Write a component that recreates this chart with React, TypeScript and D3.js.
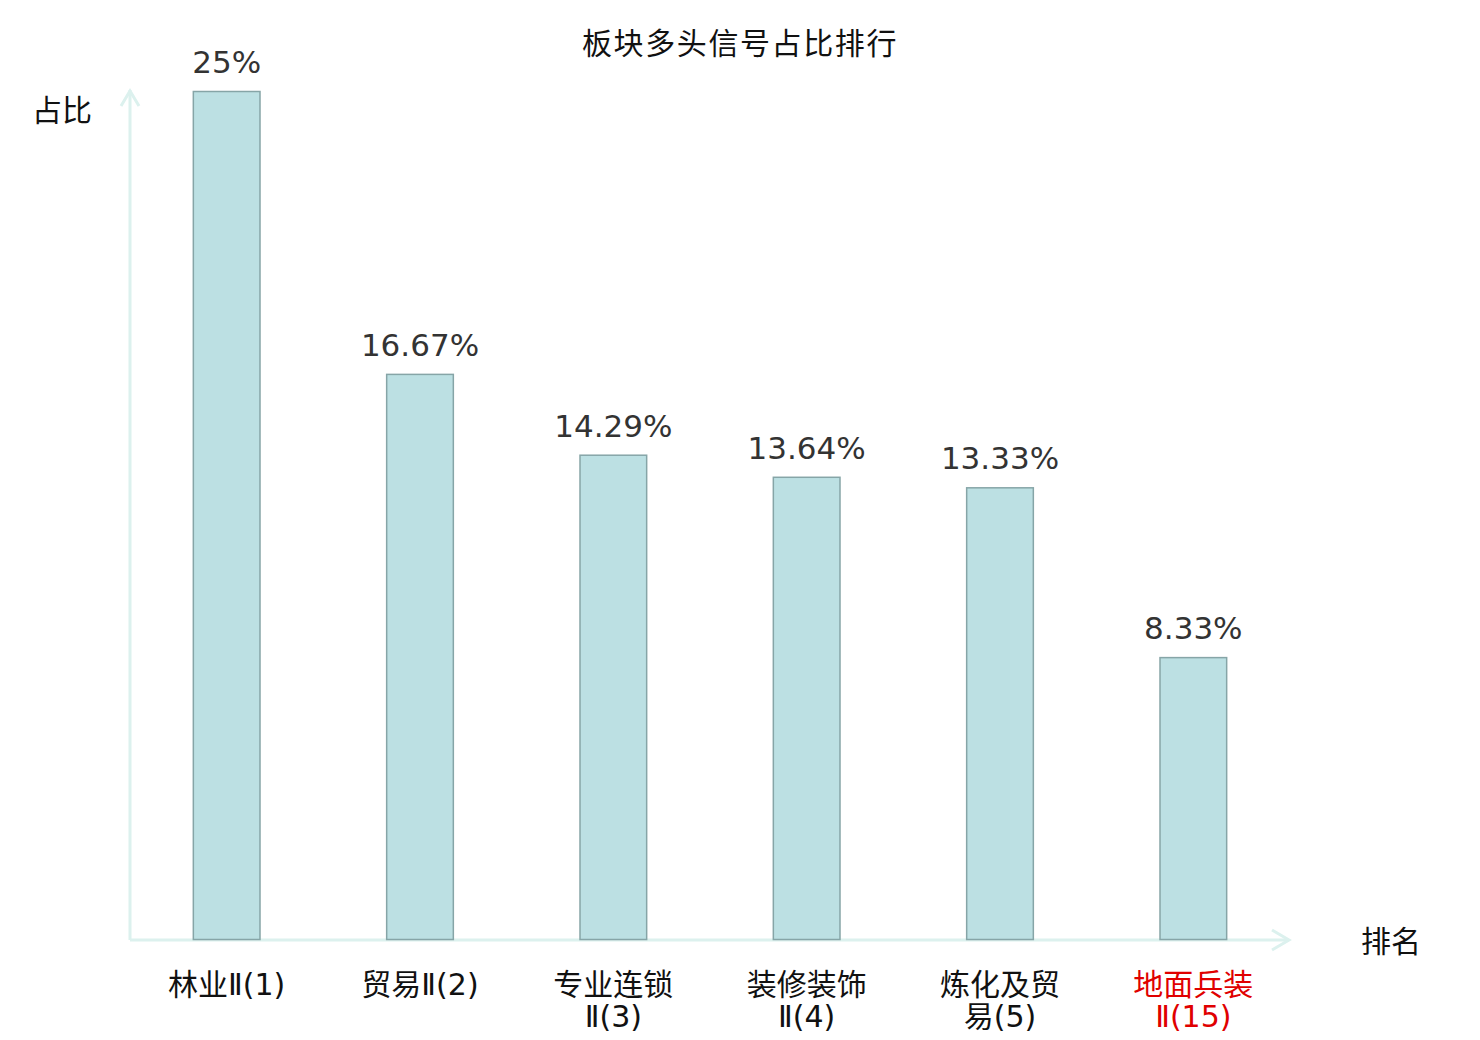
import { useEffect, useRef } from "react";
import * as d3 from "d3";

// categories (sector name + rank), values in percent
const CATEGORIES = [
  "林业Ⅱ(1)",
  "贸易Ⅱ(2)",
  "专业连锁Ⅱ(3)",
  "装修装饰Ⅱ(4)",
  "炼化及贸易(5)",
  "地面兵装Ⅱ(15)",
];
const VALUES = [25, 16.67, 14.29, 13.64, 13.33, 8.33];
const VALUE_LABELS = ["25%", "16.67%", "14.29%", "13.64%", "13.33%", "8.33%"];
const HIGHLIGHTED = ["地面兵装Ⅱ(15)"];

const TITLE = "板块多头信号占比排行";
const Y_NAME = "占比";
const X_NAME = "排名";

const CJK = "'Noto Sans CJK SC', 'DejaVu Sans', sans-serif";
const NUM = "'DejaVu Sans', 'Noto Sans CJK SC', sans-serif";
const LABEL_FONT = "'DejaVu Sans', 'Noto Sans CJK SC', sans-serif";
const AXIS_COLOR = "#dcf1ee";

// split long labels after 4 characters
function wrap(label: string): string[] {
  if (label.length <= 7) return [label];
  return [label.slice(0, 4), label.slice(4)];
}

export default function App() {
  const ref = useRef<HTMLDivElement>(null);

  useEffect(() => {
    if (!ref.current) return;
    const container = ref.current;
    container.innerHTML = "";

    const W = 1480;
    const H = 1040;
    const x0 = 130;
    const x1 = 1290;
    const yBase = 940;
    const yTop = 91;

    const svg = d3
      .select(container)
      .append("svg")
      .attr("width", W)
      .attr("height", H)
      .style("position", "absolute")
      .style("left", "0px")
      .style("top", "0px")
      .style("background", "#fff");

    const x = d3
      .scaleBand<string>()
      .domain(CATEGORIES)
      .range([x0, x1])
      .paddingInner(0.65)
      .paddingOuter(0.325);

    const y = d3.scaleLinear().domain([0, 25]).range([yBase, yTop]);

    // Title
    svg
      .append("text")
      .attr("x", 740)
      .attr("y", 54)
      .attr("text-anchor", "middle")
      .attr("font-family", CJK)
      .attr("font-size", 30)
      .attr("letter-spacing", 1.6)
      .attr("fill", "#111")
      .text(TITLE);

    // Axes with open arrow heads
    const axis = svg
      .append("g")
      .attr("stroke", AXIS_COLOR)
      .attr("stroke-width", 3)
      .attr("fill", "none");
    axis.append("line").attr("x1", x0).attr("x2", x0).attr("y1", yBase).attr("y2", 90);
    axis.append("line").attr("x1", x0).attr("x2", x1 - 2).attr("y1", yBase).attr("y2", yBase);
    axis.append("path").attr("d", `M${x0 - 9},${106} L${x0},${91} L${x0 + 9},${106}`);
    axis
      .append("path")
      .attr("d", `M${x1 - 18},${yBase - 10} L${x1 - 1},${yBase} L${x1 - 18},${yBase + 10}`);

    // Axis names
    svg
      .append("text")
      .attr("x", 92)
      .attr("y", 121)
      .attr("text-anchor", "end")
      .attr("font-family", CJK)
      .attr("font-size", 30)
      .attr("fill", "#111")
      .text(Y_NAME);

    svg
      .append("text")
      .attr("x", 1361)
      .attr("y", 952)
      .attr("font-family", CJK)
      .attr("font-size", 30)
      .attr("fill", "#111")
      .text(X_NAME);

    // Bars
    const data = CATEGORIES.map((c, i) => ({ c, v: VALUES[i], label: VALUE_LABELS[i] }));

    svg
      .append("g")
      .selectAll("rect")
      .data(data)
      .join("rect")
      .attr("x", (d) => x(d.c)! + 0.5)
      .attr("y", (d) => y(d.v) + 0.5)
      .attr("width", x.bandwidth() - 1)
      .attr("height", (d) => yBase - y(d.v) - 1)
      .attr("fill", "#bce0e3")
      .attr("stroke", "#86a5a7")
      .attr("stroke-width", 1.5);

    // Value labels
    svg
      .append("g")
      .selectAll("text")
      .data(data)
      .join("text")
      .attr("x", (d) => x(d.c)! + x.bandwidth() / 2)
      .attr("y", (d) => y(d.v) - 18)
      .attr("text-anchor", "middle")
      .attr("font-family", NUM)
      .attr("font-size", 31)
      .attr("fill", "#333")
      .text((d) => d.label);

    // Category labels, one text per line
    const labelGroup = svg.append("g").attr("font-family", LABEL_FONT).attr("font-size", 30);
    data.forEach((d) => {
      const cx = x(d.c)! + x.bandwidth() / 2;
      wrap(d.c).forEach((line, i) => {
        labelGroup
          .append("text")
          .attr("x", cx)
          .attr("y", 995 + i * 32)
          .attr("text-anchor", "middle")
          .attr("fill", HIGHLIGHTED.includes(d.c) ? "#e00000" : "#111")
          .text(line);
      });
    });

    return () => {
      container.innerHTML = "";
    };
  }, []);

  return <div ref={ref} />;
}
